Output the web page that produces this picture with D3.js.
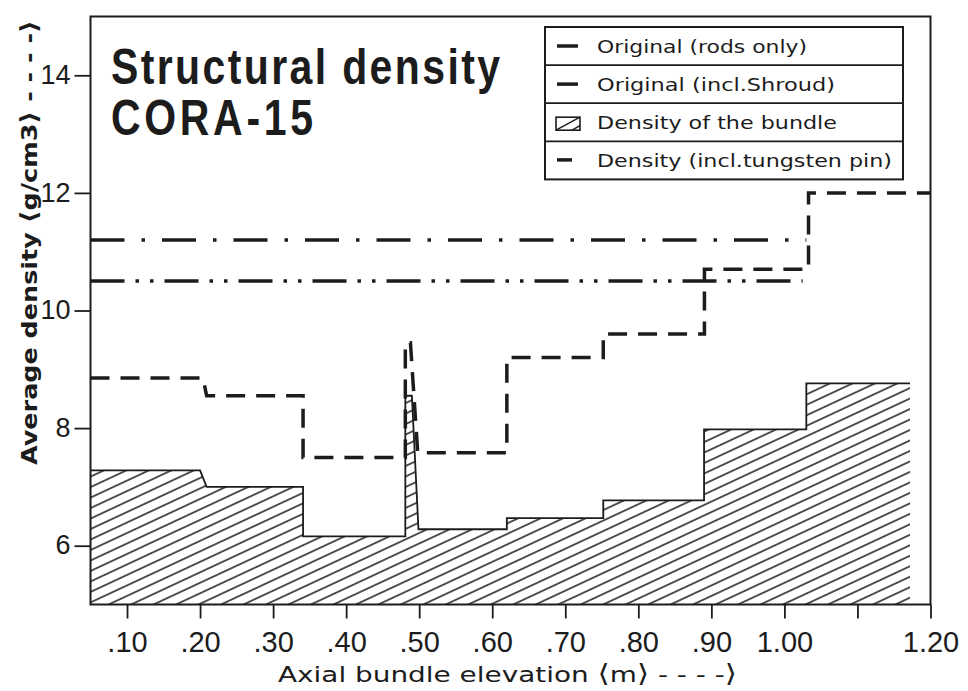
<!DOCTYPE html>
<html>
<head>
<meta charset="utf-8">
<script src="https://cdn.jsdelivr.net/npm/d3@7"></script>
<style>
  body { margin: 0; background: #fff; }
  svg { display: block; }
</style>
</head>
<body>
<div id="vis"></div>
<script>
//#region data

// axial elevation (m) / density (g/cm3)
const rodsOnlyX = [0.05, 1.03];
const rodsOnlyY = [11.2, 11.2];

const shroudX = [0.05, 1.025];
const shroudY = [10.5, 10.5];

const bundleX = [0.05, 0.2, 0.209, 0.341, 0.341, 0.481, 0.481, 0.49, 0.499, 0.62, 0.62, 0.752, 0.752, 0.89, 0.89, 1.03, 1.03, 1.172];
const bundleY = [7.28, 7.28, 7.0, 7.0, 6.16, 6.16, 8.55, 8.55, 6.28, 6.28, 6.47, 6.47, 6.77, 6.77, 7.98, 7.98, 8.76, 8.76];

const tungstenX = [0.05, 0.204, 0.209, 0.341, 0.341, 0.481, 0.481, 0.488, 0.498, 0.62, 0.62, 0.752, 0.752, 0.8905, 0.8905, 1.033, 1.033, 1.2];
const tungstenY = [8.85, 8.85, 8.55, 8.55, 7.5, 7.5, 9.45, 9.45, 7.58, 7.58, 9.2, 9.2, 9.6, 9.6, 10.7, 10.7, 12.0, 12.0];

const xTicks = [0.1, 0.2, 0.3, 0.4, 0.5, 0.6, 0.7, 0.8, 0.9, 1.0, 1.1, 1.2];
const xTickLabels = [".10", ".20", ".30", ".40", ".50", ".60", ".70", ".80", ".90", "1.00", "", "1.20"];
const yTicks = [6, 8, 10, 12, 14];

const legendLabels = [
  "Original (rods only)",
  "Original (incl.Shroud)",
  "Density of the bundle",
  "Density (incl.tungsten pin)"
];

//#endregion

const W = 968, H = 691;
const INK = "#1c1c1c";
const LA = "\u27E8", RA = "\u27E9";

const x = d3.scaleLinear().domain([0.05, 1.2]).range([90.5, 930.5]);
const y = d3.scaleLinear().domain([5, 15]).range([604.5, 16.5]);

const svg = d3.select("#vis")
  .append("svg")
    .attr("width", W)
    .attr("height", H);

svg.append("rect").attr("width", W).attr("height", H).attr("fill", "#fff");

// hatch pattern for the bundle area
const defs = svg.append("defs");
const hatch = defs.append("pattern")
  .attr("id", "hatch")
  .attr("patternUnits", "userSpaceOnUse")
  .attr("width", 10)
  .attr("height", 9.5)
  .attr("patternTransform", "rotate(-25)");
hatch.append("line")
  .attr("x1", 0).attr("x2", 10)
  .attr("y1", 4.75).attr("y2", 4.75)
  .attr("stroke", INK)
  .attr("stroke-width", 1.5);

const zip = (xs, ys) => xs.map((d, i) => [d, ys[i]]);
const line = d3.line().x(d => x(d[0])).y(d => y(d[1]));

// bundle area
const bundlePts = zip(bundleX, bundleY);
const area = d3.area().x(d => x(d[0])).y0(y(5)).y1(d => y(d[1]));

svg.append("path")
  .attr("d", area(bundlePts))
  .attr("fill", "url(#hatch)");

svg.append("path")
  .attr("d", line(bundlePts))
  .attr("fill", "none")
  .attr("stroke", INK)
  .attr("stroke-width", 1.8);

// original lines
svg.append("path")
  .attr("d", line(zip(rodsOnlyX, rodsOnlyY)))
  .attr("fill", "none")
  .attr("stroke", INK)
  .attr("stroke-width", 3.5)
  .attr("stroke-dasharray", "34,17,3.5,17");

svg.append("path")
  .attr("d", line(zip(shroudX, shroudY)))
  .attr("fill", "none")
  .attr("stroke", INK)
  .attr("stroke-width", 3.5)
  .attr("stroke-dasharray", "34,11,3.5,11,3.5,11");

// tungsten pin
svg.append("path")
  .attr("d", line(zip(tungstenX, tungstenY)))
  .attr("fill", "none")
  .attr("stroke", INK)
  .attr("stroke-width", 3.5)
  .attr("stroke-dasharray", "19,11");

// frame
svg.append("rect")
  .attr("x", x(0.05))
  .attr("y", y(15))
  .attr("width", x(1.2) - x(0.05))
  .attr("height", y(5) - y(15))
  .attr("fill", "none")
  .attr("stroke", INK)
  .attr("stroke-width", 2);

// axes
const xAxis = d3.axisBottom(x)
  .tickValues(xTicks)
  .tickFormat((d, i) => xTickLabels[i])
  .tickSize(14);

const gx = svg.append("g")
  .attr("transform", `translate(0, ${y(5)})`)
  .call(xAxis);
gx.select(".domain").remove();
gx.selectAll(".tick line").attr("stroke", INK).attr("stroke-width", 1.8);
gx.selectAll(".tick text")
  .attr("y", 47)
  .attr("dy", 0)
  .attr("fill", INK)
  .style("font-family", "'Liberation Sans', Arial, sans-serif")
  .style("font-size", "29px");

const yAxis = d3.axisLeft(y)
  .tickValues(yTicks)
  .tickSize(16)
  .tickPadding(4);

const gy = svg.append("g")
  .attr("transform", `translate(${x(0.05)}, 0)`)
  .call(yAxis);
gy.select(".domain").remove();
gy.selectAll(".tick line").attr("stroke", INK).attr("stroke-width", 1.8);
gy.selectAll(".tick text")
  .attr("dy", "0.3em")
  .attr("fill", INK)
  .style("font-family", "'Liberation Sans', Arial, sans-serif")
  .style("font-size", "27px");

// axis titles
function bracketText(sel, parts) {
  parts.forEach(p => {
    const t = sel.append("tspan").text(p);
    if (p === LA || p === RA) t.style("font-size", "1.12em");
  });
}

const xTitle = svg.append("text")
  .attr("x", 278)
  .attr("y", 682)
  .attr("textLength", 459)
  .attr("lengthAdjust", "spacingAndGlyphs")
  .attr("fill", INK)
  .style("font-family", "'DejaVu Sans', sans-serif")
  .style("font-size", "22px");
bracketText(xTitle, ["Axial bundle elevation ", LA, "m", RA, " - - - -", RA]);

const yTitle = svg.append("text")
  .attr("transform", "translate(37, 465) rotate(-90)")
  .attr("textLength", 445)
  .attr("lengthAdjust", "spacingAndGlyphs")
  .attr("fill", INK)
  .style("font-family", "'DejaVu Sans', sans-serif")
  .style("font-weight", "bold")
  .style("font-size", "21px");
bracketText(yTitle, ["Average density  ", LA, "g/cm3", RA, " - - - -", RA]);

// title: narrow glyphs with open tracking
const title = svg.append("g")
  .attr("transform", "translate(111, 0) scale(0.82, 1)")
  .attr("fill", INK)
  .style("font-family", "'Liberation Sans', Arial, sans-serif")
  .style("font-weight", "bold")
  .style("font-size", "50px");

title.append("text")
  .attr("x", 0).attr("y", 84)
  .attr("textLength", 389 / 0.82)
  .attr("lengthAdjust", "spacing")
  .text("Structural density");

title.append("text")
  .attr("x", 0).attr("y", 135)
  .attr("textLength", 202 / 0.82)
  .attr("lengthAdjust", "spacing")
  .text("CORA-15");

// legend
const rowH = 38.1;
const labelWidths = [210, 238, 240, 295];

const legend = svg.append("g")
  .attr("transform", "translate(545, 27)");

legend.append("rect")
  .attr("width", 358)
  .attr("height", rowH * 4)
  .attr("fill", "#fff")
  .attr("stroke", INK)
  .attr("stroke-width", 2);

const rows = legend.selectAll("g.row")
  .data(legendLabels)
  .enter()
  .append("g")
    .attr("class", "row")
    .attr("transform", (d, i) => `translate(0, ${i * rowH})`);

rows.filter((d, i) => i > 0)
  .append("line")
    .attr("x1", 0).attr("x2", 358)
    .attr("y1", 0).attr("y2", 0)
    .attr("stroke", INK)
    .attr("stroke-width", 1.8);

rows.append("text")
  .attr("x", 52)
  .attr("y", 25.5)
  .attr("textLength", (d, i) => labelWidths[i])
  .attr("lengthAdjust", "spacingAndGlyphs")
  .attr("fill", INK)
  .style("font-family", "'DejaVu Sans', sans-serif")
  .style("font-size", "17px")
  .text(d => d);

rows.each(function (d, i) {
  const g = d3.select(this);
  if (i < 2) {
    g.append("line")
      .attr("x1", 12).attr("x2", 33)
      .attr("y1", 19).attr("y2", 19)
      .attr("stroke", INK)
      .attr("stroke-width", 3.5);
  } else if (i === 2) {
    g.append("rect")
      .attr("x", 11).attr("y", 14)
      .attr("width", 24).attr("height", 13)
      .attr("fill", "#fff")
      .attr("stroke", INK)
      .attr("stroke-width", 1.6);
    g.append("line")
      .attr("x1", 11).attr("y1", 27)
      .attr("x2", 35).attr("y2", 14)
      .attr("stroke", INK)
      .attr("stroke-width", 1.4);
    g.append("line")
      .attr("x1", 27).attr("y1", 27)
      .attr("x2", 35).attr("y2", 22.5)
      .attr("stroke", INK)
      .attr("stroke-width", 1.4);
  } else {
    g.append("line")
      .attr("x1", 12).attr("x2", 27)
      .attr("y1", 18.6).attr("y2", 18.6)
      .attr("stroke", INK)
      .attr("stroke-width", 3.5);
  }
});
</script>
</body>
</html>
